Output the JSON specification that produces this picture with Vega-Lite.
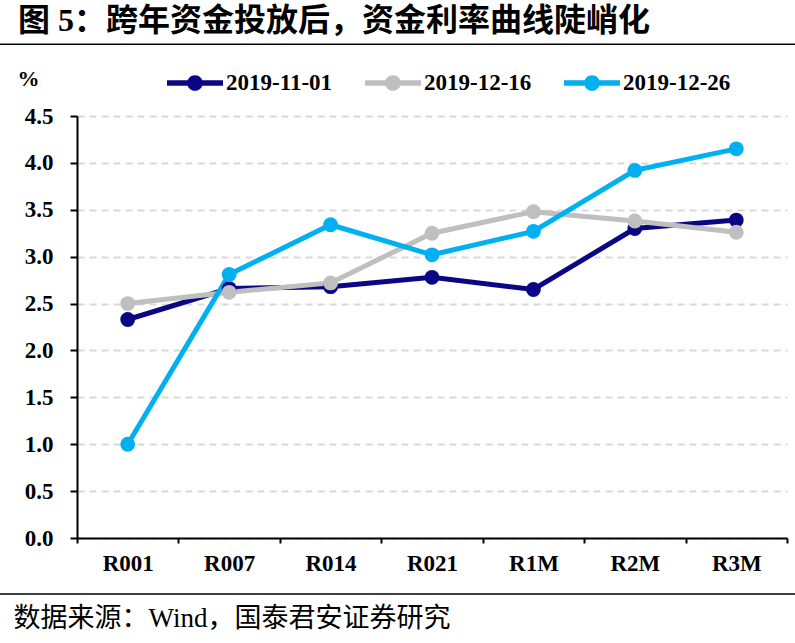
{
  "$schema": "https://vega.github.io/schema/vega-lite/v6.json",
  "width": 710,
  "height": 422,
  "autosize": "none",
  "padding": {"left": 77, "top": 116, "right": 8, "bottom": 105},
  "background": "white",
  "config": {
    "view": {"stroke": null},
    "font": "Liberation Serif"
  },
  "title": {
    "text": "图 5：跨年资金投放后，资金利率曲线陡峭化",
    "anchor": "start",
    "frame": "group",
    "dx": -59,
    "offset": 6,
    "font": "Liberation Serif, Noto Sans CJK SC",
    "fontSize": 32,
    "fontWeight": "bold",
    "color": "black"
  },
  "datasets": {
    "rates": [
      {"tenor": "R001", "date": "2019-11-01", "rate": 2.33},
      {"tenor": "R007", "date": "2019-11-01", "rate": 2.66},
      {"tenor": "R014", "date": "2019-11-01", "rate": 2.68},
      {"tenor": "R021", "date": "2019-11-01", "rate": 2.78},
      {"tenor": "R1M", "date": "2019-11-01", "rate": 2.65},
      {"tenor": "R2M", "date": "2019-11-01", "rate": 3.30},
      {"tenor": "R3M", "date": "2019-11-01", "rate": 3.39},
      {"tenor": "R001", "date": "2019-12-16", "rate": 2.50},
      {"tenor": "R007", "date": "2019-12-16", "rate": 2.62},
      {"tenor": "R014", "date": "2019-12-16", "rate": 2.72},
      {"tenor": "R021", "date": "2019-12-16", "rate": 3.25},
      {"tenor": "R1M", "date": "2019-12-16", "rate": 3.48},
      {"tenor": "R2M", "date": "2019-12-16", "rate": 3.38},
      {"tenor": "R3M", "date": "2019-12-16", "rate": 3.26},
      {"tenor": "R001", "date": "2019-12-26", "rate": 1.00},
      {"tenor": "R007", "date": "2019-12-26", "rate": 2.81},
      {"tenor": "R014", "date": "2019-12-26", "rate": 3.34},
      {"tenor": "R021", "date": "2019-12-26", "rate": 3.02},
      {"tenor": "R1M", "date": "2019-12-26", "rate": 3.27},
      {"tenor": "R2M", "date": "2019-12-26", "rate": 3.92},
      {"tenor": "R3M", "date": "2019-12-26", "rate": 4.15}
    ],
    "seps": [{"pos": 5.264}, {"pos": -0.597}]
  },
  "layer": [
    {
      "data": {"name": "rates"},
      "mark": {"type": "line", "strokeWidth": 5, "point": {"filled": true, "size": 220}},
      "encoding": {
        "x": {
          "field": "tenor",
          "type": "nominal",
          "sort": ["R001", "R007", "R014", "R021", "R1M", "R2M", "R3M"],
          "scale": {"paddingInner": 0, "paddingOuter": 0},
          "axis": {
            "title": "数据来源：Wind，国泰君安证券研究",
            "titleFont": "Liberation Serif, Noto Sans CJK SC",
            "titleFontSize": 27,
            "titleFontWeight": "normal",
            "titleColor": "black",
            "titleAnchor": "start",
            "titleAlign": "left",
            "titleBaseline": "middle",
            "titleX": -64,
            "titleY": 80,
            "labelAngle": 0,
            "labelFont": "Liberation Serif",
            "labelFontSize": 23,
            "labelFontWeight": "bold",
            "labelColor": "black",
            "labelPadding": 9,
            "tickBand": "extent",
            "tickSize": 5,
            "tickWidth": 2,
            "tickColor": "black",
            "domainColor": "black",
            "domainWidth": 2,
            "grid": false
          }
        },
        "y": {
          "field": "rate",
          "type": "quantitative",
          "scale": {"domain": [0, 4.5], "nice": false, "zero": true},
          "axis": {
            "title": "%",
            "titleAngle": 0,
            "titleFont": "Liberation Serif",
            "titleFontSize": 22,
            "titleFontWeight": "bold",
            "titleColor": "black",
            "titleAlign": "center",
            "titleBaseline": "middle",
            "titleX": -49,
            "titleY": -38,
            "values": [0, 0.5, 1, 1.5, 2, 2.5, 3, 3.5, 4, 4.5],
            "format": ".1f",
            "labelFont": "Liberation Serif",
            "labelFontSize": 23,
            "labelFontWeight": "bold",
            "labelColor": "black",
            "labelPadding": 17,
            "tickSize": 7,
            "tickWidth": 2,
            "tickColor": "black",
            "domainColor": "black",
            "domainWidth": 2,
            "grid": true,
            "gridColor": "#d9d9d9",
            "gridWidth": 2,
            "gridDash": [7, 5]
          }
        },
        "color": {
          "field": "date",
          "type": "nominal",
          "scale": {"domain": ["2019-11-01", "2019-12-16", "2019-12-26"], "range": ["#0B0784", "#BFBFBF", "#00B0F0"]},
          "legend": {
            "title": null,
            "orient": "none",
            "direction": "horizontal",
            "legendX": 90,
            "legendY": -61,
            "symbolType": "M-1,-0.1L1,-0.1L1,0.1L-1,0.1Z M0.28,0A0.28,0.28,0,1,1,-0.28,0A0.28,0.28,0,1,1,0.28,0Z",
            "symbolSize": 3136,
            "symbolStrokeWidth": 0,
            "labelFont": "Liberation Serif",
            "labelFontSize": 23,
            "labelFontWeight": "bold",
            "labelColor": "black",
            "labelOffset": 3,
            "columnPadding": 32,
            "encode": {
              "symbols": {"update": {"fill": {"scale": "color", "field": "value"}, "strokeWidth": {"value": 0}}}
            }
          }
        }
      }
    },
    {
      "data": {"name": "seps"},
      "mark": {"type": "rule", "color": "black", "strokeWidth": 1.5, "clip": false},
      "encoding": {
        "y": {"field": "pos", "type": "quantitative"},
        "x": {"value": -77},
        "x2": {"value": 718}
      }
    }
  ]
}
